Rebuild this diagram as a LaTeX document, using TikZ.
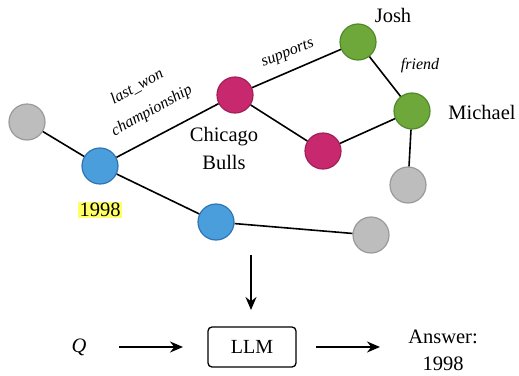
\documentclass[tikz,border=0pt]{standalone}
\usepackage{fontspec}
\setmainfont{Liberation Serif}
\usetikzlibrary{arrows.meta}
\definecolor{gfill}{HTML}{BDBDBD}\definecolor{gdraw}{HTML}{9A9A9A}
\definecolor{bfill}{HTML}{4A9EDB}\definecolor{bdraw}{HTML}{2F74B5}
\definecolor{pfill}{HTML}{C8286E}\definecolor{pdraw}{HTML}{A21F58}
\definecolor{nfill}{HTML}{6FA83A}\definecolor{ndraw}{HTML}{4E8A2A}
\definecolor{hl}{HTML}{FFFF66}
\begin{document}
\begin{tikzpicture}[x=1pt,y=-1pt,
  ent/.style={circle,minimum size=36pt,inner sep=0pt,line width=1.2pt},
  grayn/.style={ent,fill=gfill,draw=gdraw},
  bluen/.style={ent,fill=bfill,draw=bdraw},
  pinkn/.style={ent,fill=pfill,draw=pdraw},
  greenn/.style={ent,fill=nfill,draw=ndraw},
  edge/.style={line width=1.6pt,black},
  lbl/.style={font=\fontsize{20.5}{23}\selectfont,inner sep=1pt},
  rel/.style={font=\fontsize{16}{19}\selectfont\itshape,inner sep=0pt},
  flow/.style={line width=1.6pt,-{Stealth[length=13pt,width=11pt]}}]
\useasboundingbox (0,0) rectangle (519,375);
% nodes
\node[grayn] (g1) at (27,122) {};
\node[bluen] (b1) at (100,166) {};
\node[bluen] (b2) at (216,222) {};
\node[pinkn] (p1) at (235,95) {};
\node[pinkn] (p2) at (323,151) {};
\node[greenn] (j) at (358,42) {};
\node[greenn] (m) at (412,111) {};
\node[grayn] (g2) at (408,185) {};
\node[grayn] (g3) at (371,235) {};
% edges
\draw[edge] (g1) -- (b1);
\draw[edge] (b1) -- (p1);
\draw[edge] (b1) -- (b2);
\draw[edge] (b2) -- (g3);
\draw[edge] (p1) -- (j);
\draw[edge] (p1) -- (p2);
\draw[edge] (p2) -- (m);
\draw[edge] (j) -- (m);
\draw[edge] (m) -- (g2);
% labels
\node[lbl] (tj) at (393,15) {Josh};
\node[lbl] (tm) at (482,112) {Michael};
\node[lbl] (tc1) at (224,137) {Chicago};
\node[lbl] (tc2) at (224,162) {Bulls};
\node[lbl,fill=hl,inner sep=1.5pt] (t98) at (100,210) {1998};
\node[rel] (tf) at (420,66) {friend};
\node[rel,rotate=22] (ts) at (288,54) {supports};
\node[rel,rotate=29] (tl1) at (137,87) {last\_won};
\node[rel,rotate=29] (tl2) at (152,111) {championship};
% bottom
\coordinate (dtop) at (251,255);
\coordinate (dbot) at (251,310);
\node[draw,rounded corners=4pt,line width=1.3pt,minimum width=88pt,minimum height=40pt,font=\fontsize{20}{23}\selectfont] (llm) at (252,347) {LLM};
\node[lbl] (q) at (79,347) {\textit{Q}};
\node[lbl] (ans1) at (443,337) {Answer:};
\node[lbl] (ans2) at (443,364) {1998};
\coordinate (qa) at (119,347); \coordinate (qb) at (183,347);
\coordinate (ra) at (316,347); \coordinate (rb) at (380,347);
\draw[flow] (dtop) -- (dbot);
\draw[flow] (qa) -- (qb);
\draw[flow] (ra) -- (rb);
\end{tikzpicture}
\end{document}
